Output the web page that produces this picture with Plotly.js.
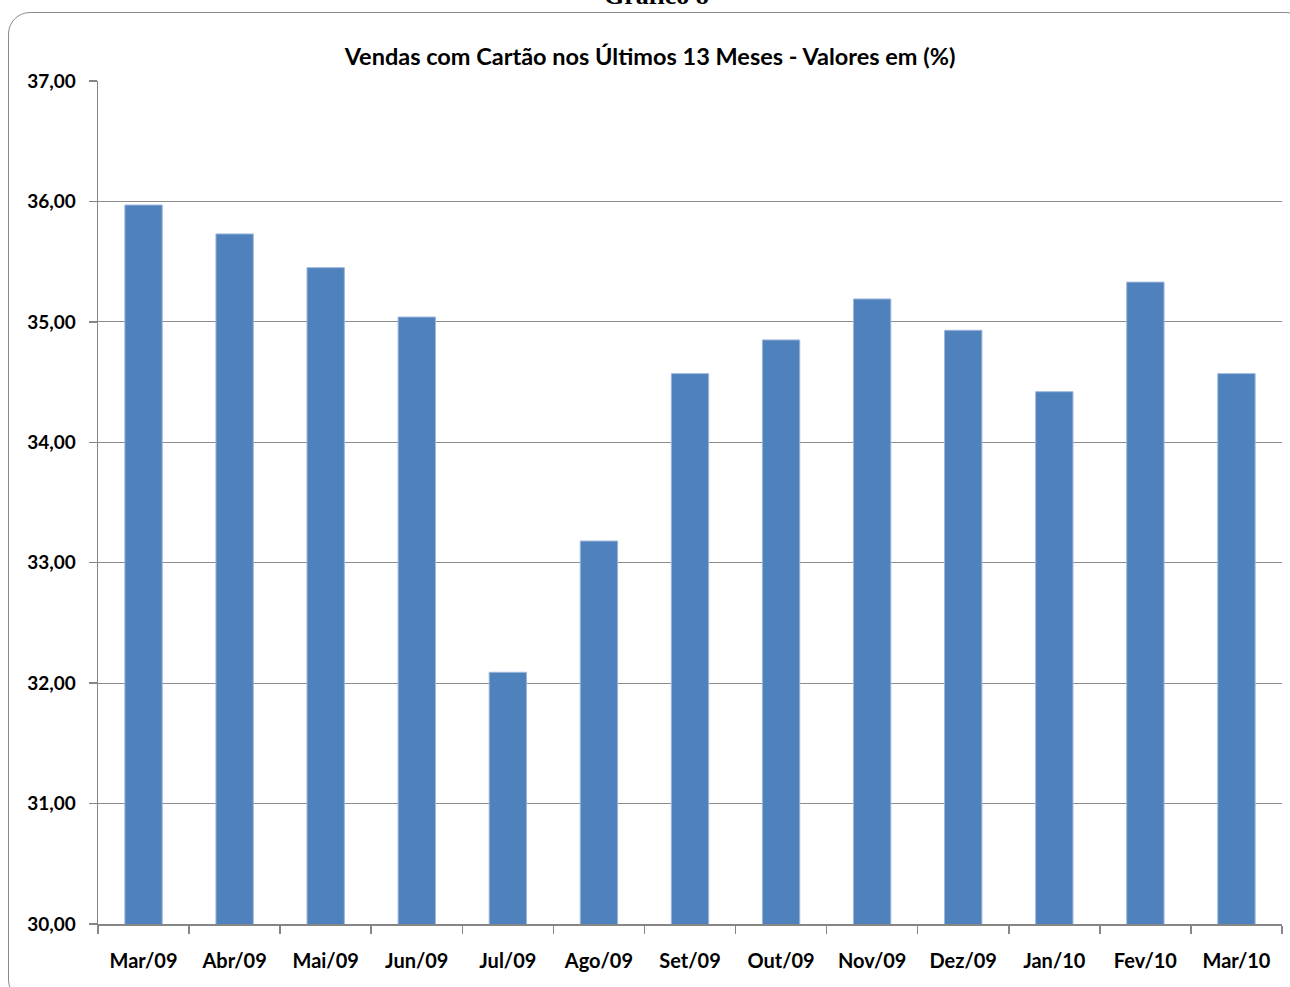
<!DOCTYPE html>
<html>
<head>
<meta charset="utf-8">
<script src="https://cdn.plot.ly/plotly-3.0.1.min.js"></script>
<style>
  html, body { margin: 0; padding: 0; background: #fff; }
  #wrap { position: relative; width: 1290px; height: 987px; overflow: hidden; }
  #frame { position: absolute; left: 8px; top: 12px; width: 1300px; height: 990px;
           border: 1.5px solid #8a8a8a; border-radius: 22px; box-sizing: border-box; }
  #chart { position: absolute; left: 0; top: 0; width: 1290px; height: 987px; }
</style>
</head>
<body>
<div id="wrap">
  <div id="frame"></div>
  <div id="chart"></div>
</div>
<script>
const months = ["Mar/09","Abr/09","Mai/09","Jun/09","Jul/09","Ago/09","Set/09","Out/09","Nov/09","Dez/09","Jan/10","Fev/10","Mar/10"];
const values = [35.97, 35.73, 35.45, 35.04, 32.09, 33.18, 34.57, 34.85, 35.19, 34.93, 34.42, 35.33, 34.57];
const yTicks = [30, 31, 32, 33, 34, 35, 36, 37];

const font = "Lato, 'Open Sans', 'Noto Sans', sans-serif";

Plotly.newPlot('chart', [{
  type: 'bar',
  x: months,
  y: values,
  marker: { color: '#4F81BD', line: { color: '#9DB6DA', width: 1 } },
  hoverinfo: 'x+y'
}], {
  width: 1290, height: 987,
  paper_bgcolor: 'rgba(0,0,0,0)',
  plot_bgcolor: 'rgba(0,0,0,0)',
  margin: { l: 98, r: 8, t: 81, b: 63 },
  separators: ',.',
  bargap: 0.59,
  showlegend: false,
  title: {
    text: '<b>Vendas com Cartão nos Últimos 13 Meses - Valores em (%)</b>',
    font: { family: font, size: 23.5, color: '#000' },
    x: 650 / 1290, xref: 'container', xanchor: 'center',
    y: 1 - 57/987, yref: 'container', yanchor: 'middle'
  },
  xaxis: {
    type: 'category',
    tickson: 'boundaries',
    ticks: 'outside', ticklen: 8, tickcolor: '#868686', tickwidth: 1.5,
    showline: true, linecolor: '#868686', linewidth: 1.5,
    showgrid: false,
    tickfont: { family: font, size: 20, color: '#000', weight: 'bold' },
    ticklabelstandoff: 18
  },
  yaxis: {
    range: [30, 37],
    tickvals: yTicks,
    tickformat: '.2f',
    ticks: 'outside', ticklen: 8, tickcolor: '#868686', tickwidth: 1.5,
    showline: true, linecolor: '#868686', linewidth: 1.5,
    showgrid: true, gridcolor: '#8c8c8c', gridwidth: 1.2,
    zeroline: false,
    tickfont: { family: font, size: 19, color: '#000', weight: 'bold' },
    ticklabelstandoff: 9
  },
  annotations: [{
    text: '<b>Gráfico 8</b>',
    xref: 'paper', yref: 'paper',
    x: (656 - 98) / 1184, xanchor: 'center',
    y: 1 + (81 - 12) / 843, yanchor: 'bottom',
    showarrow: false,
    font: { family: "'Liberation Serif', 'DejaVu Serif', serif", size: 26, color: '#000' }
  }]
}, { displayModeBar: false, staticPlot: true });
</script>
</body>
</html>
